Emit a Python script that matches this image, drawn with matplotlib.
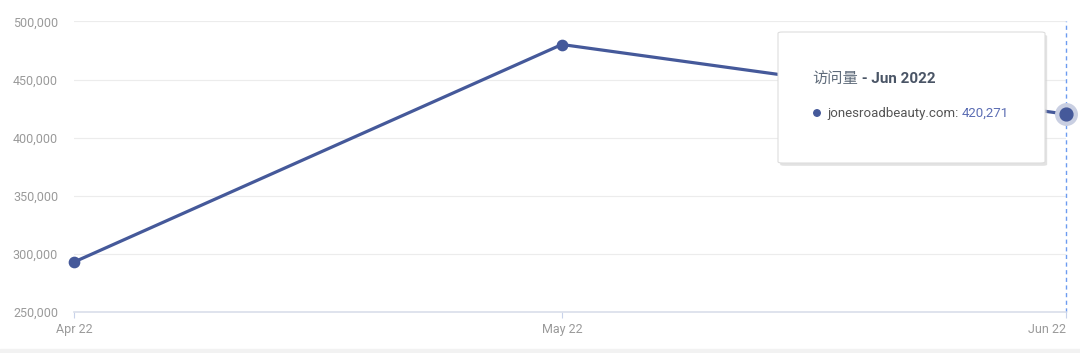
import matplotlib.pyplot as plt
from matplotlib.patches import FancyBboxPatch, Rectangle, Ellipse
from datetime import datetime

plt.rcParams['font.family'] = ['Roboto', 'Noto Sans CJK SC', 'DejaVu Sans']

# monthly visits for jonesroadbeauty.com
months = [datetime(2022, 4, 1), datetime(2022, 5, 1), datetime(2022, 6, 1)]
month_labels = ['Apr 22', 'May 22', 'Jun 22']
visits = [293000, 480200, 420271]
y_ticks = [250000, 300000, 350000, 400000, 450000, 500000]

line_color = '#45599a'

fig = plt.figure(figsize=(10.8, 3.53), dpi=100)
fig.patches.append(Rectangle((0, 0), 1, 4 / 353, transform=fig.transFigure,
                             color='#f2f2f2', zorder=0))
ax = fig.add_axes([74 / 1080, 41 / 353, 992 / 1080, 290.5 / 353])

ax.plot(months, visits, color=line_color, lw=2.3, zorder=3, clip_on=False)
ax.scatter(months[:2], visits[:2], s=55, color=line_color, zorder=4, clip_on=False)
# hovered point with halo
ax.scatter(months[2], visits[2], s=240, color='#c9cfe2', zorder=4, clip_on=False)
ax.scatter(months[2], visits[2], s=85, color=line_color, zorder=5, clip_on=False)
ax.axvline(months[2], color='#6d9cf0', lw=1, ls=(0, (3, 2.5)), zorder=2, clip_on=False)

ax.set_xlim(months[0], months[-1])
ax.set_ylim(250000, 500000)
ax.set_xticks(months)
ax.set_xticklabels(month_labels)
ax.get_xticklabels()[-1].set_ha('right')
ax.get_xticklabels()[-1].set_x(0)
ax.set_yticks(y_ticks)
ax.set_yticklabels([f'{v:,}' for v in y_ticks])
ax.grid(axis='y', color='#ececec', lw=0.8)
ax.set_axisbelow(True)
for s in ['top', 'right', 'left']:
    ax.spines[s].set_visible(False)
ax.spines['bottom'].set_color('#d9deea')
ax.spines['bottom'].set_linewidth(1.2)
ax.tick_params(axis='y', length=0, pad=11.5, labelsize=9, labelcolor='#9a9a9a')
ax.tick_params(axis='x', length=4, width=0.8, color='#c8d2ea', pad=4,
               labelsize=9, labelcolor='#9a9a9a')

# tooltip
x0, y0, w, h = 778 / 1080, (353 - 163) / 353, 267 / 1080, 131 / 353
shadow = FancyBboxPatch((x0 + 0.002, y0 - 0.008), w, h, boxstyle='round,pad=0,rounding_size=0.004',
                        transform=fig.transFigure, facecolor='#d0d0d0', edgecolor='none',
                        alpha=0.6, zorder=8)
box = FancyBboxPatch((x0, y0), w, h, boxstyle='round,pad=0,rounding_size=0.004',
                     transform=fig.transFigure, facecolor='white', edgecolor='#dddddd',
                     lw=0.8, zorder=9)
fig.patches.extend([shadow, box])
t1 = fig.text(812 / 1080, 1 - 79 / 353, '访问量', fontsize=11, color='#5f6b7a',
              va='center', ha='left', zorder=10)
fig.canvas.draw()
bb = t1.get_window_extent()
fig.text(bb.x1 / 1080, 1 - 79 / 353, ' - Jun 2022', fontsize=11, color='#4a5566',
         fontweight='bold', va='center', ha='left', zorder=10)
fig.patches.append(Ellipse((817 / 1080, 1 - 113 / 353), 6.5 / 1080, 6.5 / 353,
                           transform=fig.transFigure, color=line_color, zorder=10))
t2 = fig.text(827 / 1080, 1 - 113 / 353, 'jonesroadbeauty.com: ', fontsize=9.5,
              color='#555555', va='center', ha='left', zorder=10)
fig.canvas.draw()
bb2 = t2.get_window_extent()
fig.text(bb2.x1 / 1080, 1 - 113 / 353, f'{visits[2]:,}', fontsize=9.5, color='#5b6db3',
         va='center', ha='left', zorder=10)

fig.savefig('out.png', dpi=100)
